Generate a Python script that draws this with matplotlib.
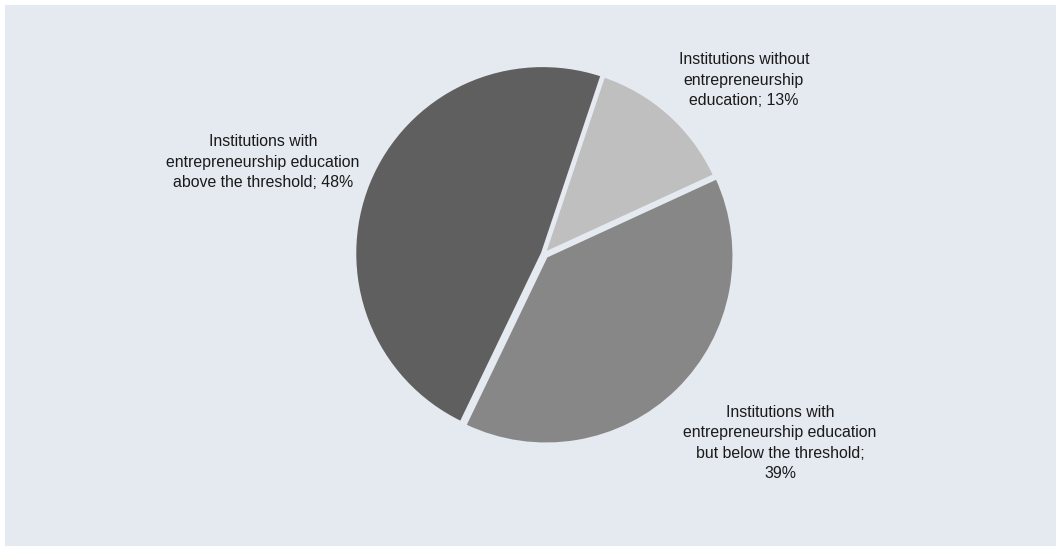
import matplotlib.pyplot as plt
from matplotlib.patches import Rectangle

# Data
labels = ['Institutions without\nentrepreneurship\neducation; 13%',
          'Institutions with\nentrepreneurship education\nbut below the threshold;\n39%',
          'Institutions with\nentrepreneurship education\nabove the threshold; 48%']
shares = [13, 39, 48]
colors = ['#BFBFBF', '#878787', '#5F5F5F']

BG = '#E5EAF1'

plt.rcParams['font.family'] = ['Liberation Sans', 'DejaVu Sans']

fig = plt.figure(figsize=(10.56, 5.46), dpi=100)
fig.patch.set_facecolor('white')
ax = fig.add_axes([0, 0, 1, 1])

# panel background
ax.add_patch(Rectangle((5, 5), 1051, 541, facecolor=BG, edgecolor='none', zorder=0))

# y axis is inverted below, so counterclock=True draws clockwise on screen
# explode is in data units (pixels here)
ax.pie(shares, colors=colors, startangle=-71.5, counterclock=True,
       center=(544, 254), radius=188, explode=[0, 3, 1.5],
       wedgeprops=dict(edgecolor=BG, linewidth=2.4), frame=True)
ax.set_xlim(0, 1056)
ax.set_ylim(546, 0)
ax.set_aspect('equal')
ax.axis('off')

# labels placed beside their slices
label_pos = [(744, 80), (780, 443), (263, 162)]
for text, (x, y) in zip(labels, label_pos):
    ax.text(x, y, text, ha='center', va='center', fontsize=11.4,
            color='#1A1A1A', linespacing=1.45)

fig.savefig('out.png', dpi=100, facecolor=fig.get_facecolor())
